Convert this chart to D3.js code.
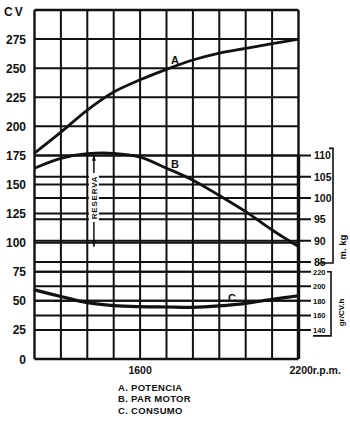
<!DOCTYPE html>
<html><head><meta charset="utf-8">
<script src="https://cdn.jsdelivr.net/npm/d3@7"></script>
<style>
html,body{margin:0;padding:0;background:#fff;}
svg{display:block;font-family:"Liberation Sans",Arial,sans-serif;font-weight:bold;}
</style></head>
<body><svg id="c" width="350" height="422"></svg>
<script>
// ---- data ----
const rpm = [1200,1300,1400,1500,1600,1700,1800,1900,2000,2100,2200];
const potencia = [177,195,214,229.5,240,249,257,263,267,271,275];          // CV
const parMotor = [107,109.3,110.4,110.5,109.6,107,104.2,100.6,96.8,92.5,88.6]; // m.kg
const consumo = [195,186,177.5,173.5,172,171.5,171,173,176.5,182,187];     // gr/CV.h
const cvTicks = [0,25,50,75,100,125,150,175,200,225,250,275];
const mkgTicks = [110,105,100,95,90,85];
const grTicks = [220,200,180,160,140];
const xTickLabels = [{v:1600,t:"1600"},{v:2200,t:"2200r.p.m."}];
const legend = ["A. POTENCIA","B. PAR MOTOR","C. CONSUMO"];

const svg = d3.select("#c");
const ink = "#111";
const x = d3.scaleLinear([1200,2200],[34.5,298.5]);
const yCV = d3.scaleLinear([0,300],[359,10]);
const yM = d3.scaleLinear([85,110],[262,yCV(175)]);
const yG = d3.scaleLinear([140,220],[yCV(25),yCV(75)]);

const g = svg.append("g");
// vertical grid
g.selectAll(".vg").data(d3.range(1200,2201,100)).join("line")
  .attr("x1",d=>x(d)).attr("x2",d=>x(d)).attr("y1",yCV(300)).attr("y2",yCV(0))
  .attr("stroke",ink).attr("stroke-width",d=>(d===1200||d===2200)?2.4:2);
// CV horizontal grid
g.selectAll(".hcv").data(d3.range(0,301,25)).join("line")
  .attr("x1",x(1200)).attr("x2",x(2200)).attr("y1",d=>yCV(d)).attr("y2",d=>yCV(d))
  .attr("stroke",ink).attr("stroke-width",d=>(d===0||d===300)?2.4:2);
// m.kg grid + ticks
g.selectAll(".hm").data(mkgTicks).join("line")
  .attr("x1",x(1200)).attr("x2",311).attr("y1",d=>yM(d)).attr("y2",d=>yM(d))
  .attr("stroke",ink).attr("stroke-width",2);
// gr grid + ticks
g.selectAll(".hg").data(grTicks).join("line")
  .attr("x1",x(1200)).attr("x2",311).attr("y1",d=>yG(d)).attr("y2",d=>yG(d))
  .attr("stroke",ink).attr("stroke-width",2);
// thick right border in lower part
g.append("line").attr("x1",x(2200)).attr("x2",x(2200)).attr("y1",yM(110)).attr("y2",yCV(0))
  .attr("stroke",ink).attr("stroke-width",3.4);

// left labels
svg.selectAll(".lcv").data(cvTicks).join("text")
  .attr("x",26).attr("y",d=>yCV(d)+4.5).attr("text-anchor","end")
  .attr("font-size",12).attr("fill",ink).text(d=>d);
svg.append("text").attr("x",4).attr("y",16).attr("font-size",12).attr("letter-spacing",2)
  .attr("fill",ink).text("CV");

// right labels
svg.selectAll(".lm").data(mkgTicks).join("text")
  .attr("x",314).attr("y",d=>yM(d)+4).attr("font-size",10.5).attr("fill",ink).text(d=>d);
svg.selectAll(".lg").data(grTicks).join("text")
  .attr("x",313).attr("y",d=>yG(d)+3).attr("font-size",7.5).attr("fill",ink).text(d=>d);

// brackets
svg.append("path").attr("d",`M329,${yM(110)-7}H333V${yM(85)+1}H318`)
  .attr("fill","none").attr("stroke",ink).attr("stroke-width",1.6);
svg.append("path").attr("d",`M327,${yG(220)}H331V${yG(140)+6}H313`)
  .attr("fill","none").attr("stroke",ink).attr("stroke-width",1.6);
svg.append("text").attr("transform",`translate(346,${yM(88.5)}) rotate(-90)`)
  .attr("text-anchor","middle").attr("font-size",9.5).attr("fill",ink).text("m. kg");
svg.append("text").attr("transform",`translate(344,${yG(164)}) rotate(-90)`)
  .attr("text-anchor","middle").attr("font-size",8).attr("fill",ink).text("gr/CV.h");

// curves
const lineCV = d3.line().x((d,i)=>x(rpm[i])).y(d=>yCV(d)).curve(d3.curveCatmullRom);
const lineM = d3.line().x((d,i)=>x(rpm[i])).y(d=>yM(d)).curve(d3.curveCatmullRom);
const lineG = d3.line().x((d,i)=>x(rpm[i])).y(d=>yG(d)).curve(d3.curveCatmullRom);
svg.append("path").attr("d",lineCV(potencia)).attr("fill","none").attr("stroke",ink).attr("stroke-width",2.8);
svg.append("path").attr("d",lineM(parMotor)).attr("fill","none").attr("stroke",ink).attr("stroke-width",2.8);
svg.append("path").attr("d",lineG(consumo)).attr("fill","none").attr("stroke",ink).attr("stroke-width",3.2);

// curve labels
svg.append("text").attr("x",171).attr("y",64).attr("font-size",11).attr("fill",ink).text("A");
svg.append("text").attr("x",171).attr("y",168).attr("font-size",11).attr("fill",ink).text("B");
svg.append("text").attr("x",228).attr("y",302).attr("font-size",11).attr("fill",ink).text("C.");

// RESERVA dimension
const rx = x(1425);
svg.append("line").attr("x1",rx).attr("x2",rx).attr("y1",yM(110.4)+1).attr("y2",173)
  .attr("stroke",ink).attr("stroke-width",1.5);
svg.append("line").attr("x1",rx).attr("x2",rx).attr("y1",222).attr("y2",yM(88.6))
  .attr("stroke",ink).attr("stroke-width",1.5);
svg.append("path").attr("d",`M${rx-2},${yM(110.4)+7}L${rx},${yM(110.4)+1}L${rx+2},${yM(110.4)+7}Z`).attr("fill",ink);
svg.append("path").attr("d",`M${rx-2},${yM(88.6)-6}L${rx},${yM(88.6)}L${rx+2},${yM(88.6)-6}Z`).attr("fill",ink);
svg.append("rect").attr("x",rx-5).attr("y",174).attr("width",10).attr("height",47).attr("fill","#fff");
svg.append("text").attr("transform",`translate(${rx+3},197.5) rotate(-90)`)
  .attr("text-anchor","middle").attr("font-size",8).attr("letter-spacing",0.8).attr("fill",ink).text("RESERVA");

// x labels
svg.append("text").attr("x",x(1600)).attr("y",374).attr("text-anchor","middle")
  .attr("font-size",10.5).attr("fill",ink).text(xTickLabels[0].t);
svg.append("text").attr("x",x(2200)-9).attr("y",374)
  .attr("font-size",10.5).attr("fill",ink).text(xTickLabels[1].t);

// legend
svg.selectAll(".leg").data(legend).join("text")
  .attr("x",118).attr("y",(d,i)=>391+i*11.3).attr("font-size",9.5).attr("letter-spacing",0.3)
  .attr("fill",ink).text(d=>d);
</script></body></html>
